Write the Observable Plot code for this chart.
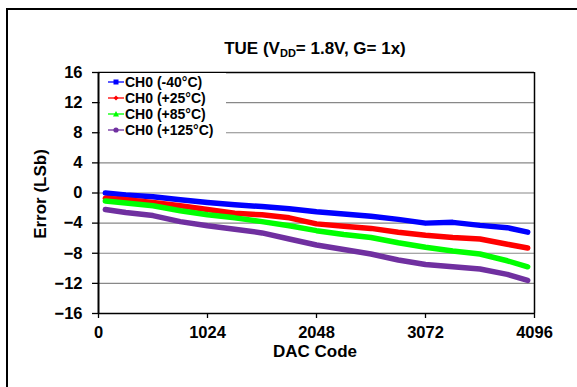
<!DOCTYPE html>
<html>
<head>
<meta charset="utf-8">
<script src="https://cdn.jsdelivr.net/npm/d3@7"></script>
<script src="https://cdn.jsdelivr.net/npm/@observablehq/plot@0.6"></script>
<style>
  html, body { margin: 0; padding: 0; background: #fff; }
  body { width: 577px; height: 387px; overflow: hidden; position: relative;
         font-family: "Liberation Sans", Arial, sans-serif; font-weight: bold; color: #000; }
  #frame { position: absolute; left: 6px; top: 8px; width: 600px; height: 400px;
           border-left: 2px solid #000; border-top: 2px solid #000; }
  #chart { position: absolute; left: 0; top: 0; }
  .title { position: absolute; left: 0; width: 630px; top: 40px; text-align: center;
           font-size: 17px; line-height: 18px; white-space: nowrap; }
  .title sub { font-size: 11px; vertical-align: -3px; line-height: 0; }
  .xlabel { position: absolute; left: 0; width: 630px; top: 342px; text-align: center;
            font-size: 17px; line-height: 19px; }
  .ylabel { position: absolute; left: 40px; top: 194px; font-size: 17px; line-height: 19px;
            transform: translate(-50%, -50%) rotate(-90deg); white-space: nowrap; }
  .legend { position: absolute; left: 100px; top: 73px; width: 126px; height: 66px; background: #fff; }
  .legend .row { position: absolute; left: 8px; height: 16px; display: flex; align-items: center;
                 font-size: 14px; white-space: nowrap; }
  .legend svg { margin-right: 1px; }
</style>
</head>
<body>
<div id="frame"></div>
<div id="chart"></div>
<div class="title">TUE (V<sub>DD</sub>= 1.8V, G= 1x)</div>
<div class="xlabel">DAC Code</div>
<div class="ylabel">Error (LSb)</div>
<div class="legend" id="legend"></div>
<script>
// ---- data ----
const codes = [64, 256, 512, 768, 1024, 1280, 1536, 1792, 2048, 2304, 2560, 2816, 3072, 3328, 3584, 3840, 4032];
const chM40  = [0.0, -0.27, -0.5, -0.9, -1.25, -1.55, -1.8, -2.1, -2.5, -2.8, -3.1, -3.5, -4.0, -3.9, -4.3, -4.6, -5.2];
const chP25  = [-0.7, -0.9, -1.25, -1.7, -2.2, -2.7, -2.9, -3.3, -4.1, -4.4, -4.7, -5.2, -5.6, -5.9, -6.1, -6.8, -7.3];
const chP85  = [-1.07, -1.33, -1.7, -2.35, -2.9, -3.3, -3.8, -4.35, -5.0, -5.5, -5.9, -6.6, -7.2, -7.7, -8.1, -9.0, -9.8];
const chP125 = [-2.2, -2.6, -3.0, -3.8, -4.35, -4.8, -5.3, -6.1, -6.9, -7.5, -8.1, -8.9, -9.5, -9.8, -10.1, -10.8, -11.6];
const seriesNames = ["CH0 (-40°C)", "CH0 (+25°C)", "CH0 (+85°C)", "CH0 (+125°C)"];
const seriesColors = ["#0000ff", "#ff0000", "#00ff00", "#7030a0"];
const xTicks = [0, 1024, 2048, 3072, 4096];
const yTicks = [16, 12, 8, 4, 0, -4, -8, -12, -16];

const seriesValues = [chM40, chP25, chP85, chP125];
const rows = [];
seriesValues.forEach((vals, s) => vals.forEach((v, i) => rows.push({series: seriesNames[s], code: codes[i], err: v})));

const chart = Plot.plot({
  width: 577, height: 387,
  marginLeft: 98, marginRight: 43, marginTop: 72, marginBottom: 74,
  style: {fontFamily: '"Liberation Sans", Arial, sans-serif', fontWeight: "bold", fontSize: "16.5px", background: "transparent", color: "#000"},
  x: {domain: [0, 4096], label: null},
  y: {domain: [-16, 16], label: null},
  color: {domain: seriesNames, range: seriesColors},
  marks: [
    Plot.gridY(yTicks.filter(d => d > -16 && d < 16), {stroke: "#888", strokeOpacity: 1, strokeWidth: 1.2}),
    Plot.line(rows, {x: "code", y: "err", z: "series", stroke: "series", strokeWidth: 5.5,
                     strokeLinejoin: "round", strokeLinecap: "round", curve: "linear"}),
    Plot.ruleY([16], {stroke: "#000", strokeWidth: 1.5}),
    Plot.ruleX([4096], {stroke: "#000", strokeWidth: 1.5}),
    Plot.ruleY([-16], {stroke: "#000", strokeWidth: 1.5}),
    Plot.ruleX([0], {stroke: "#000", strokeWidth: 2}),
    Plot.axisY({ticks: yTicks, tickSize: 6, tickPadding: 10, label: null, stroke: "#000", strokeWidth: 1.3}),
    Plot.axisX({ticks: xTicks, tickFormat: d => String(d), tickSize: 5, tickPadding: 8, label: null, stroke: "#000", strokeWidth: 1.3})
  ]
});
document.getElementById("chart").appendChild(chart);

// legend
const markers = [
  '<rect x="5.5" y="3.5" width="5" height="5" fill="#0000ff"/>',
  '<path d="M8 3.5 L10.5 6 L8 8.5 L5.5 6 Z" fill="#ff0000"/>',
  '<path d="M8 3 L11 8.5 L5 8.5 Z" fill="#00ff00"/>',
  '<circle cx="8" cy="6" r="2.6" fill="#7030a0"/>'
];
const legend = document.getElementById("legend");
seriesNames.forEach((name, i) => {
  const row = document.createElement("div");
  row.className = "row";
  row.style.top = (1 + i * 16) + "px";
  row.innerHTML = `<svg width="16" height="12"><line x1="0" y1="6" x2="16" y2="6" stroke="${seriesColors[i]}" stroke-width="1.3"/>${markers[i]}</svg><span>${name}</span>`;
  legend.appendChild(row);
});
</script>
</body>
</html>
